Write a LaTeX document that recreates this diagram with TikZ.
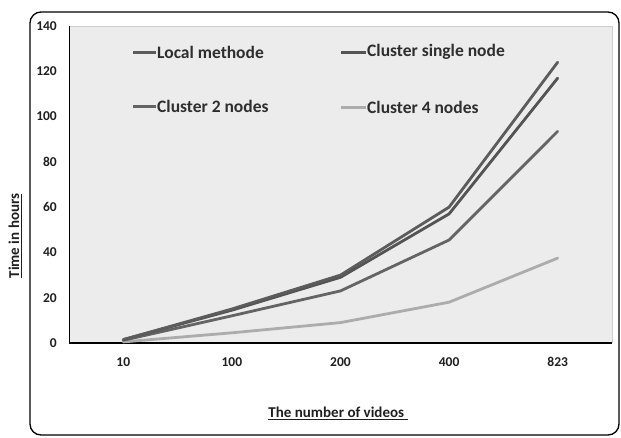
\documentclass[tikz,border=0pt]{standalone}
\usepackage{fontspec}
\setmainfont{Carlito}
\begin{document}
\begin{tikzpicture}[x=1pt,y=-1pt,
  ticklab/.style={font=\fontsize{13.5}{14}\selectfont\bfseries,text=black!88,inner sep=0pt},
  legtext/.style={font=\fontsize{17.5}{18}\selectfont\bfseries,text=black!82,anchor=west,inner sep=0pt},
  axtitle/.style={font=\fontsize{15}{16}\selectfont\bfseries,text=black!88,inner sep=0pt},
  series/.style={line width=2.8pt,line join=round,line cap=round},
  legline/.style={line width=2.8pt}]
\definecolor{cLocal}{RGB}{92,92,92}
\definecolor{cSingle}{RGB}{84,84,84}
\definecolor{cTwo}{RGB}{100,100,100}
\definecolor{cFour}{RGB}{172,172,172}
\definecolor{plotbg}{RGB}{236,236,236}
\useasboundingbox (0,0) rectangle (621,437);
% outer frame
\draw[line width=1.3pt,rounded corners=11pt] (30,12) rectangle (619,435);
% plot area
\fill[plotbg] (69,26) rectangle (612,343);
\draw[black!20,line width=0.8pt] (69,26) -- (612,26) -- (612,343);
\draw[black,line width=1pt] (69,26) -- (69,343);
\draw[black,line width=1.5pt] (69,343) -- (612,343);
% y ticks
\foreach \v/\yy in {0/343,20/297.7,40/252.4,60/207.1,80/161.9,100/116.6,120/71.3,140/26}
  \node[ticklab,anchor=east] (yl\v) at (57,\yy) {\v};
% x ticks
\foreach \lab/\xx in {10/123.3,100/231.9,200/340.5,400/449.1,823/557.7}
  \node[ticklab] (xl\lab) at (\xx,362) {\lab};
% series
\draw[series,cFour] (123.3,341.9) -- (231.9,332.8) -- (340.5,322.6) -- (449.1,302.2) -- (557.7,258.1);
\draw[series,cTwo] (123.3,340.3) -- (231.9,315.8) -- (340.5,290.9) -- (449.1,240.0) -- (557.7,131.3);
\draw[series,cSingle] (123.3,339.6) -- (231.9,310.2) -- (340.5,277.3) -- (449.1,213.9) -- (557.7,78.1);
\draw[series,cLocal] (123.3,339.6) -- (231.9,309.0) -- (340.5,275.1) -- (449.1,207.1) -- (557.7,62.2);
% legend
\coordinate (la1) at (133,52.3); \coordinate (lb1) at (156,52.3);
\coordinate (la2) at (133,106.7); \coordinate (lb2) at (156,106.7);
\coordinate (la3) at (341,52.3); \coordinate (lb3) at (366,52.3);
\coordinate (la4) at (341,107.3); \coordinate (lb4) at (366,107.3);
\draw[legline,cLocal] (la1) -- (lb1);
\draw[legline,cTwo] (la2) -- (lb2);
\draw[legline,cSingle] (la3) -- (lb3);
\draw[legline,cFour] (la4) -- (lb4);
\node[legtext] (t1) at (157,52.3) {Local methode};
\node[legtext] (t2) at (157,106.7) {Cluster 2 nodes};
\node[legtext] (t3) at (367,52.3) {Cluster single node};
\node[legtext] (t4) at (367,107.3) {Cluster 4 nodes};
% axis titles
\node[axtitle] (xt) at (338,413) {\underline{The number of videos\ }};
\node[axtitle,rotate=90] (yt) at (15,236) {\underline{Time in hours}};
\end{tikzpicture}
\end{document}
